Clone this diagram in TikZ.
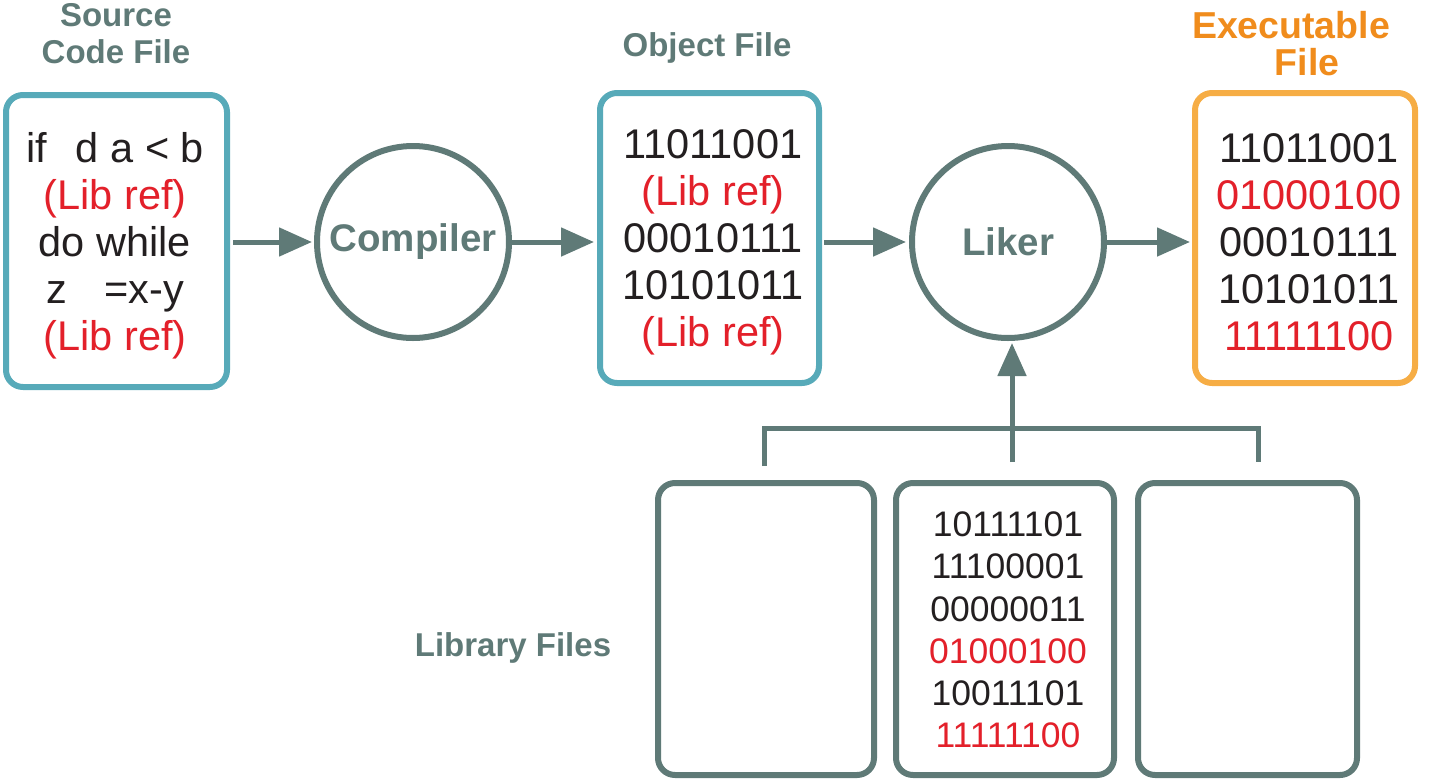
\documentclass[tikz,border=0pt]{standalone}
\usepackage{fontspec}
\setmainfont{Liberation Sans}
\usetikzlibrary{arrows.meta}
\definecolor{tealbox}{HTML}{57AAB9}
\definecolor{slate}{HTML}{5F7A77}
\definecolor{redtxt}{HTML}{E3202A}
\definecolor{orangebox}{HTML}{F6AD45}
\definecolor{orangetxt}{HTML}{F08C1C}
\definecolor{blk}{HTML}{231F20}
\tikzset{
  filebox/.style={draw, line width=6pt, rounded corners=17pt, outer sep=0pt, inner sep=0pt, fill=white},
  proc/.style={circle, draw=slate, line width=6pt, minimum size=192pt, inner sep=0pt, outer sep=0pt, text=slate, font=\fontsize{38.5}{44}\selectfont\bfseries},
  title/.style={text=slate, font=\fontsize{33}{37}\selectfont\bfseries, align=center, inner sep=0pt},
  exetitle/.style={text=orangetxt, font=\fontsize{37.5}{37}\selectfont\bfseries, inner sep=0pt},
  code/.style={text=blk, font=\fontsize{41.5}{47}\selectfont, align=center, inner sep=0pt},
  libcode/.style={text=blk, font=\fontsize{35.5}{42.2}\selectfont, align=center, inner sep=0pt},
  arr/.style={draw=slate, line width=5pt, -{Triangle[length=33pt,width=28pt]}},
  link/.style={draw=slate, line width=5pt}
}
\begin{document}
\begin{tikzpicture}[x=1pt,y=-1pt]
\useasboundingbox (0,0) rectangle (1430,782);
% boxes
\node[filebox, draw=tealbox, minimum width=221pt, minimum height=292pt] (src) at (116.5,241) {};
\node[filebox, draw=tealbox, minimum width=219pt, minimum height=290pt] (obj) at (709.5,238) {};
\node[filebox, draw=orangebox, minimum width=220pt, minimum height=290pt] (exe) at (1305,238) {};
\node[filebox, draw=slate, minimum width=216pt, minimum height=292pt] (lib1) at (766,629) {};
\node[filebox, draw=slate, minimum width=218pt, minimum height=292pt] (lib2) at (1005,629) {};
\node[filebox, draw=slate, minimum width=219pt, minimum height=292pt] (lib3) at (1247.5,629) {};
% circles
\node[proc] (comp) at (413,242) {Compiler};
\node[proc] (lik) at (1008,242) {Liker};
% titles
\node[title] (tsrc) at (116,34) {Source\\Code File};
\node[title] (tobj) at (707,48) {Object File};
\node[exetitle] (texe1) at (1291,25) {Executable};
\node[exetitle] (texe2) at (1307,62) {File};
\node[title] (tlib) at (513,648) {Library Files};
% contents
\node[code] (csrc) at (115,246) {if\hspace{0.7em}d a {<} b\\\textcolor{redtxt}{(Lib ref)}\\do while\\z\hspace{0.9em}=x-y\\\textcolor{redtxt}{(Lib ref)}};
\node[code] (cobj) at (713,242) {11011001\\\textcolor{redtxt}{(Lib ref)}\\00010111\\10101011\\\textcolor{redtxt}{(Lib ref)}};
\node[code] (cexe) at (1309,242) {11011001\\\textcolor{redtxt}{01000100}\\00010111\\10101011\\\textcolor{redtxt}{11111100}};
\node[libcode] (clib) at (1008,630) {10111101\\11100001\\00000011\\\textcolor{redtxt}{01000100}\\10011101\\\textcolor{redtxt}{11111100}};
% arrows
\draw[arr, shorten <=6pt, shorten >=5pt] (src.east |- comp.west) -- (comp.west);
\draw[arr, shorten <=2pt, shorten >=6pt] (comp.east) -- (obj.west |- comp.east);
\draw[arr, shorten <=5pt, shorten >=6pt] (obj.east |- lik.west) -- (lik.west);
\draw[arr, shorten <=2pt, shorten >=5pt] (lik.east) -- (exe.west |- lik.east);
% bracket
\coordinate (bl) at (764,466);
\coordinate (br) at (1258,462);
\coordinate (bm) at (1012,462);
\draw[link] (bl) -- (764,428) -- (1258,428) -- (br);
\draw[arr, shorten >=5pt] (bm) -- (bm |- lik.south);
\end{tikzpicture}
\end{document}
